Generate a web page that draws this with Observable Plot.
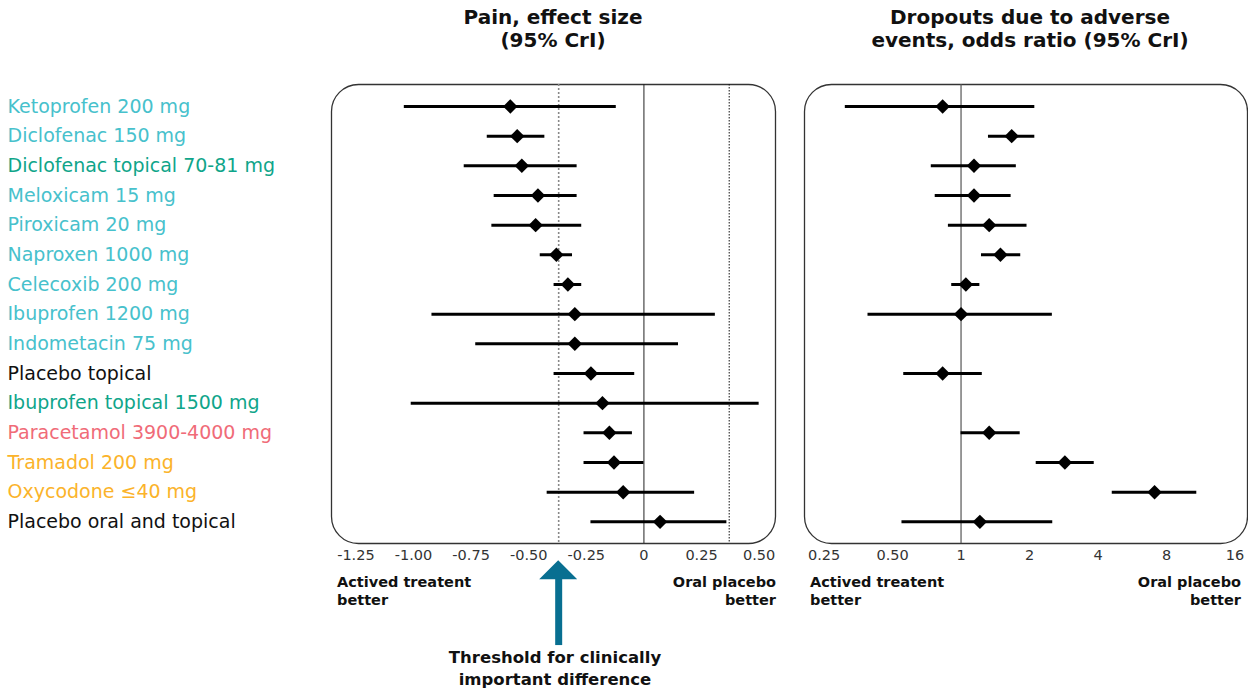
<!DOCTYPE html>
<html><head><meta charset="utf-8">
<script src="https://cdn.jsdelivr.net/npm/d3@7"></script>
<script src="https://cdn.jsdelivr.net/npm/@observablehq/plot@0.6"></script>
<style>
body{margin:0;background:#fff;font-family:"DejaVu Sans",sans-serif;}
#wrap{position:relative;width:1248px;height:693px;overflow:hidden;background:#fff;}
#wrap svg{position:absolute;top:0;}
.t{position:absolute;color:#111;font-weight:bold;white-space:nowrap;}
.title{font-size:20px;line-height:23px;text-align:center;width:400px;}
.note{font-size:14.5px;line-height:18px;}
.thr{font-size:16.5px;line-height:22px;text-align:center;width:300px;}
</style></head><body><div id="wrap"></div>
<script>
const treatments = ["Ketoprofen 200 mg","Diclofenac 150 mg","Diclofenac topical 70-81 mg","Meloxicam 15 mg","Piroxicam 20 mg","Naproxen 1000 mg","Celecoxib 200 mg","Ibuprofen 1200 mg","Indometacin 75 mg","Placebo topical","Ibuprofen topical 1500 mg","Paracetamol 3900-4000 mg","Tramadol 200 mg","Oxycodone \u226440 mg","Placebo oral and topical"];
const groups = ["oral","oral","topical","oral","oral","oral","oral","oral","oral","placebo","topical","paracetamol","opioid","opioid","placebo"];
const painEst = [-0.58,-0.55,-0.53,-0.46,-0.47,-0.38,-0.33,-0.30,-0.30,-0.23,-0.18,-0.15,-0.13,-0.09,0.07];
const painLo  = [-1.04,-0.68,-0.78,-0.65,-0.66,-0.45,-0.39,-0.92,-0.73,-0.39,-1.01,-0.26,-0.26,-0.42,-0.23];
const painHi  = [-0.12,-0.43,-0.29,-0.29,-0.27,-0.31,-0.27,0.31,0.15,-0.04,0.50,-0.05,0.00,0.22,0.36];
const orEst = [0.83,1.67,1.14,1.14,1.33,1.49,1.05,1.00,null,0.83,null,1.33,2.86,7.09,1.21];
const orLo  = [0.31,1.32,0.74,0.77,0.88,1.23,0.91,0.39,null,0.56,null,1.00,2.14,4.62,0.55];
const orHi  = [2.11,2.11,1.75,1.66,1.95,1.83,1.21,2.52,null,1.24,null,1.82,3.85,10.87,2.53];
const painTicks = [-1.25,-1.00,-0.75,-0.50,-0.25,0,0.25,0.50];
const orTicks = [0.25,0.5,1,2,4,8,16];
const mcid = 0.37;
const groupColors = {oral:"#47c1cc", topical:"#0fa58a", paracetamol:"#f06b78", opioid:"#fbb32a", placebo:"#111111"};

const rows = treatments.map((name,i)=>({name, i, group:groups[i], est:painEst[i], lo:painLo[i], hi:painHi[i], orEst:orEst[i], orLo:orLo[i], orHi:orHi[i]}));
const orRows = rows.filter(d=>d.orEst!=null);
const yOpts = {domain:[-0.74,14.73], reverse:true, axis:null};
const font = "DejaVu Sans";

const left = Plot.plot({
  width:790, height:693, marginLeft:331, marginRight:15, marginTop:84, marginBottom:150,
  style:{fontFamily:font, fontSize:"14.5px", color:"#333", overflow:"visible", background:"transparent"},
  x:{domain:[-1.356,0.571], ticks:painTicks, tickFormat:d=>d===0?"0":d.toFixed(2), tickSize:0, tickPadding:6, label:null},
  y:yOpts,
  marks:[
    Plot.frame({rx:27, ry:27, stroke:"#333", strokeWidth:1.3}),
    Plot.ruleX([0], {stroke:"#222", strokeWidth:1}),
    Plot.ruleX([-mcid], {stroke:"#888", strokeWidth:1.6, strokeDasharray:"2,2"}),
    Plot.ruleX([mcid], {stroke:"#111", strokeWidth:1, strokeDasharray:"1.5,1.5"}),
    Plot.ruleY(rows, {y:"i", x1:"lo", x2:"hi", stroke:"#000", strokeWidth:3}),
    Plot.dot(rows, {x:"est", y:"i", symbol:"diamond2", r:6.5, fill:"#000", stroke:null}),
    Plot.text(rows, {y:"i", text:"name", fill:d=>groupColors[d.group], frameAnchor:"left", textAnchor:"start", dx:-324, fontSize:19}),
    Plot.ruleX([-mcid], {y1:15.9, y2:18.17, stroke:"#086f91", strokeWidth:7}),
    Plot.areaY([
      {x:-mcid-0.0825, y1:15.95, y2:15.95},
      {x:-mcid, y1:15.95, y2:15.31},
      {x:-mcid+0.0825, y1:15.95, y2:15.95}
    ], {x:"x", y1:"y1", y2:"y2", fill:"#086f91"})
  ]
});
left.style.left = "0px";

const right = Plot.plot({
  width:458, height:693, marginLeft:14, marginRight:1, marginTop:84, marginBottom:150,
  style:{fontFamily:font, fontSize:"14.5px", color:"#333", overflow:"visible", background:"transparent"},
  x:{type:"log", base:2, domain:[0.2051,18.16], ticks:orTicks, tickFormat:d=>d===0.25?"0.25":d===0.5?"0.50":String(d), tickSize:0, tickPadding:6, label:null},
  y:yOpts,
  marks:[
    Plot.frame({rx:27, ry:27, stroke:"#333", strokeWidth:1.3}),
    Plot.ruleX([1], {stroke:"#555", strokeWidth:1.2}),
    Plot.ruleY(orRows, {y:"i", x1:"orLo", x2:"orHi", stroke:"#000", strokeWidth:3}),
    Plot.dot(orRows, {x:"orEst", y:"i", symbol:"diamond2", r:6.5, fill:"#000", stroke:null})
  ]
});
right.style.left = "790px";

const wrap = document.getElementById("wrap");
wrap.appendChild(left);
wrap.appendChild(right);

function addText(html, cls, css){
  const d = document.createElement("div");
  d.className = "t " + cls;
  d.innerHTML = html;
  Object.assign(d.style, css);
  wrap.appendChild(d);
}
addText("Pain, effect size<br>(95% CrI)", "title", {left:"353px", top:"6px"});
addText("Dropouts due to adverse<br>events, odds ratio (95% CrI)", "title", {left:"830px", top:"6px"});
addText("Actived treatent<br>better", "note", {left:"337px", top:"573px"});
addText("Oral placebo<br>better", "note", {right:"472px", top:"573px", textAlign:"right"});
addText("Actived treatent<br>better", "note", {left:"810px", top:"573px"});
addText("Oral placebo<br>better", "note", {right:"7px", top:"573px", textAlign:"right"});
addText("Threshold for clinically<br>important difference", "thr", {left:"405px", top:"647px"});
</script>
</body></html>
